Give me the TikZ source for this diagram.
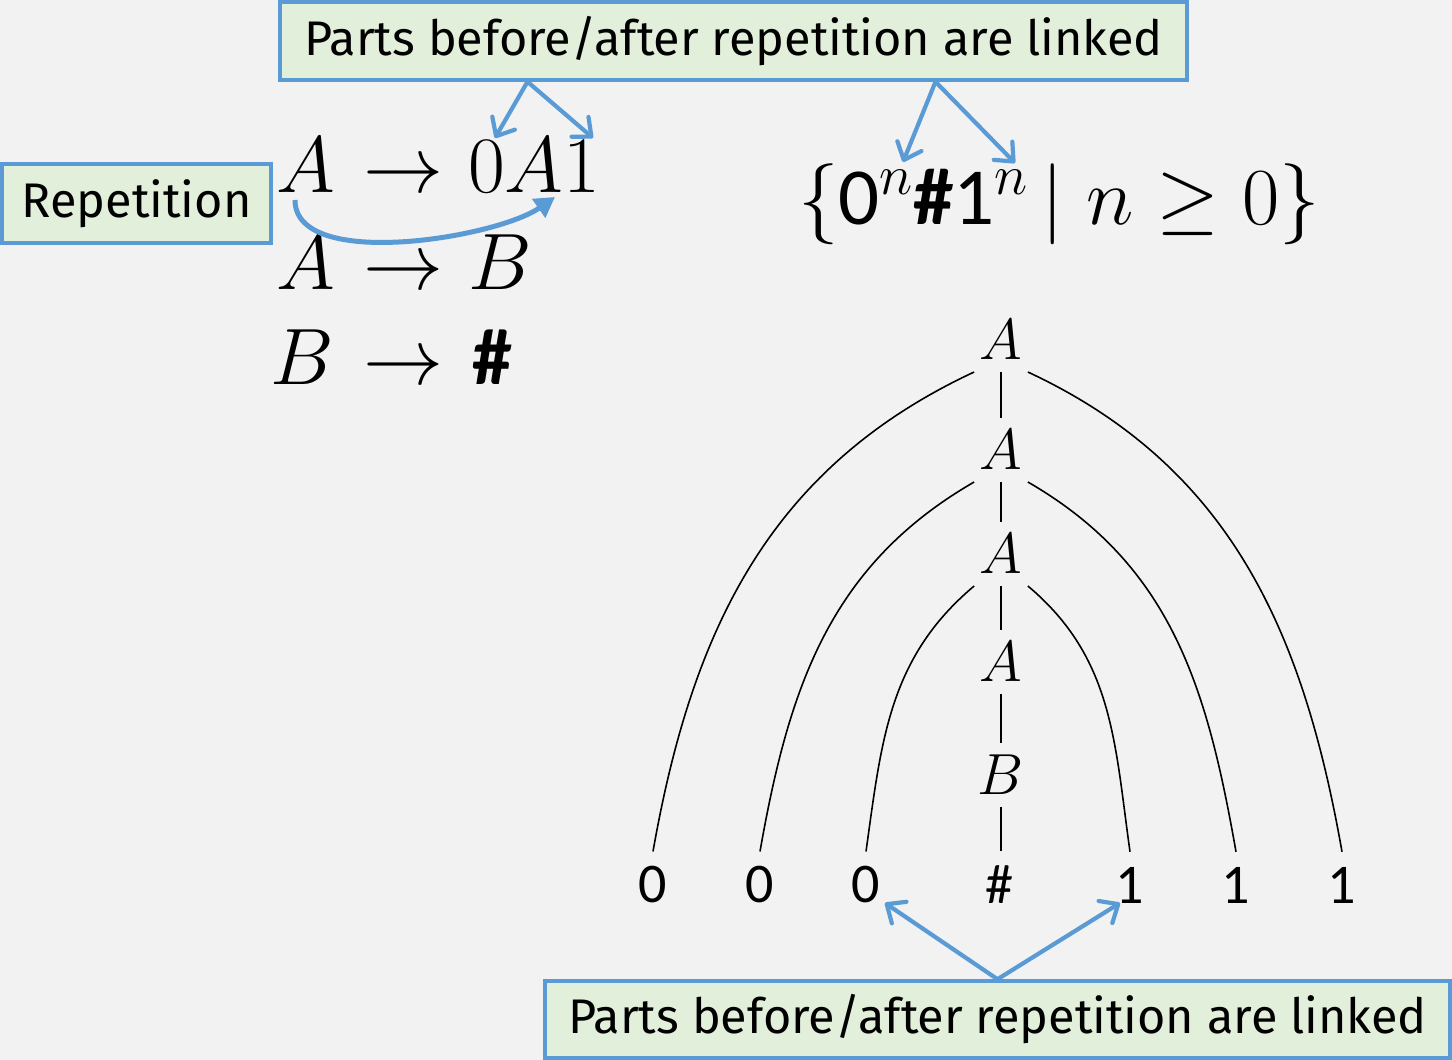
\documentclass[tikz,border=0pt]{standalone}
\usepackage{fix-cm}
\usepackage[no-math]{fontspec}
\newfontfamily\notefont{Fira Sans}
\newfontfamily\symfont{Carlito}
\usetikzlibrary{arrows.meta,positioning,calc}
\definecolor{slide}    {HTML}{F2F2F2}
\definecolor{noteblue} {HTML}{5B9BD5}
\definecolor{notegreen}{HTML}{E2EFDA}
\newcommand{\sdig}[1]{\mbox{\symfont #1}}
\newcommand{\shash}{\mbox{\symfont\bfseries\#}}
\tikzset{
  notebox/.style  ={draw=noteblue, fill=notegreen, line width=3.5pt,
                    inner sep=0pt, font=\notefont\fontsize{48.6}{54}\selectfont},
  rulepart/.style ={anchor=base west, inner sep=0pt, font=\fontsize{80}{86}\selectfont},
  langpart/.style ={anchor=base west, inner sep=0pt, font=\fontsize{81}{86}\selectfont},
  treelab/.style  ={inner sep=12pt, font=\fontsize{58}{62}\selectfont},
  leaflab/.style  ={inner sep=15pt, font=\symfont\fontsize{56}{60}\selectfont},
  treeedge/.style ={line width=1.6pt, black},
  linkarr/.style  ={-{Straight Barb[round,length=15pt,width=26pt]}, line width=4.2pt,
                    line cap=round, noteblue},
  looparr/.style  ={-{Triangle[length=20pt,width=22pt]}, line width=5pt, noteblue},
}

\begin{document}
\begin{tikzpicture}[x=1pt,y=1pt]
        \fill[slide] (0,0) rectangle (1452,1060);
        \useasboundingbox (0,0) rectangle (1452,1060);

        % callouts
        \node[notebox,minimum width=907pt,minimum height=78pt] (topnote) at (733.5,1019)
          {Parts before/after repetition are linked};
        \node[notebox,minimum width=269pt,minimum height=79pt] (repnote) at (136.5,856.5)
          {Repetition};
        \node[notebox,minimum width=905pt,minimum height=77pt] (botnote) at (997.5,40.5)
          {Parts before/after repetition are linked};

        % grammar
        \node[rulepart] (r1l) at (276,867) {$A$};
        \node[rulepart] (r1a) at (363,867) {$\rightarrow$};
        \node[rulepart] (r1r) at (468,867) {$0A1$};
        \node[rulepart] (r2l) at (276,770) {$A$};
        \node[rulepart] (r2a) at (363,770) {$\rightarrow$};
        \node[rulepart] (r2r) at (468,770) {$B$};
        \node[rulepart] (r3l) at (270,675) {$B$};
        \node[rulepart] (r3a) at (363,675) {$\rightarrow$};
        \node[rulepart] (r3r) at (472,675) {\shash};

        % language
        \node[langpart] (lang) at (798,835)
          {$\{\sdig{0}^n\shash\sdig{1}^n\,|\;n\geq 0\}$};

        % parse tree
        \node[treelab] (a1) at (1001,720) {$A$};
        \node[treelab] (a2) at (1001,610) {$A$};
        \node[treelab] (a3) at (1001,506) {$A$};
        \node[treelab] (a4) at (1001,398) {$A$};
        \node[treelab] (b1) at (1001,285) {$B$};
        \foreach \name/\x/\t in {l1/653/0,l2/760/0,l3/866/0,l4/999/\#,l5/1130/1,l6/1236/1,l7/1342/1}
          \node[leaflab] (\name) at (\x,175) {\t};

        \draw[treeedge] (a1) -- (a2);
        \draw[treeedge] (a2) -- (a3);
        \draw[treeedge] (a3) -- (a4);
        \draw[treeedge] (a4) -- (b1);
        \draw[treeedge] (b1) -- (b1 |- l4.north);
        \draw[treeedge] (a1.230) to[out=205,in=80] (l1.north);
        \draw[treeedge] (a2.230) to[out=210,in=80] (l2.north);
        \draw[treeedge] (a3.230) to[out=220,in=82] (l3.north);
        \draw[treeedge] (a1.310) to[out=-25,in=100] (l7.north);
        \draw[treeedge] (a2.310) to[out=-30,in=100] (l6.north);
        \draw[treeedge] (a3.310) to[out=-40,in=98] (l5.north);

        % links
        \draw[linkarr] ($(topnote.south)+(-206,0)$) -- ($(r1r.base west)+(27,55)$);
        \draw[linkarr] ($(topnote.south)+(-206,0)$) -- ($(r1r.base west)+(125,55)$);
        \draw[linkarr] ($(topnote.south)+(202,0)$) -- ($(lang.base west)+(105,63)$);
        \draw[linkarr] ($(topnote.south)+(202,0)$) -- ($(lang.base west)+(217,62)$);
        \draw[linkarr] (botnote.north) -- ($(l3)+(19,-18)$);
        \draw[linkarr] (botnote.north) -- ($(l5)+(-10,-18)$);

        % repetition
        \draw[looparr] ($(r1l.base west)+(19,-7)$) to[out=-90,in=215,looseness=0.7] ($(r1r.base west)+(87,-4)$);
      \end{tikzpicture}
\end{document}
